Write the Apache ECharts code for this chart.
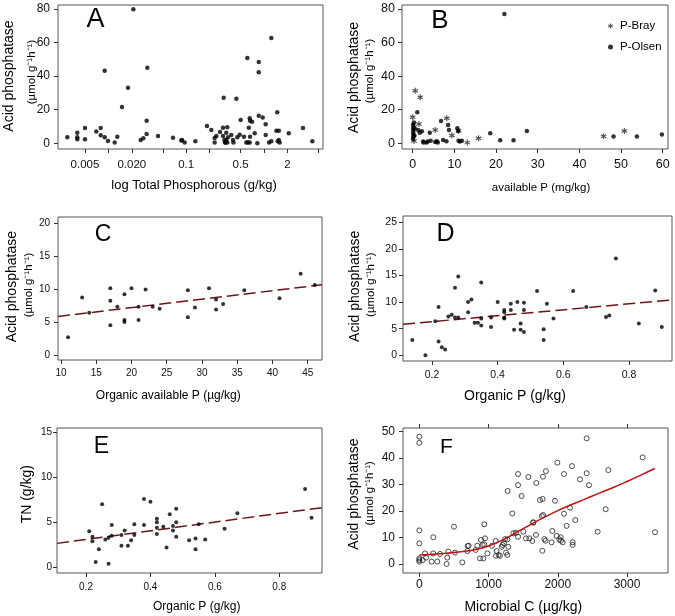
<!DOCTYPE html>
<html><head><meta charset="utf-8">
<script src="https://cdn.jsdelivr.net/npm/echarts@6/dist/echarts.min.js"></script>
<style>html,body{margin:0;padding:0;background:#fff}#c{width:675px;height:616px}</style>
</head><body><div id="c"></div>
<script>
// ---------- Panel A: total P (g/kg, log scale) vs acid phosphatase ----------
const aTP = [0.00296,0.00398,0.00398,0.00398,0.005,0.005,0.00698,0.00796,0.00796,0.00896,0.00896,0.00988,0.01204,0.0130,0.01496,0.01786,0.0209,0.0260,0.0281,0.0310,0.0310,0.0316,0.0434,0.0676,0.0865,0.0883,0.0955,
0.131,0.185,0.210,0.232,0.232,0.244,0.272,0.297,0.303,0.297,0.310,0.316,0.320,0.327,0.337,0.337,0.327,0.344,0.379,0.399,0.405,0.441,0.454,0.487,0.501,0.553,0.592,0.622,0.655,0.610,0.637,0.655,0.661,0.702,0.661,0.759,0.820,0.855,0.855,0.855,0.962,1.05,1.05,1.16,1.24,1.24,1.48,1.44,1.55,1.55,1.59,1.50,2.08,3.17,4.18];
const aAP = [3.6,6.3,3.6,2.4,9.1,2.4,7.1,9.1,4.8,43.2,3.6,1.4,0.4,3.9,21.6,33.1,79.8,2.0,3.0,5.5,13.5,45.0,4.3,3.3,1.6,2.0,0.4,
1.2,10.3,7.9,0.4,3.2,4.3,6.7,9.3,27.2,4.3,2.0,0.4,0.4,2.0,0.4,9.5,6.3,3.6,4.9,2.0,0.4,26.6,3.6,5.1,13.9,3.9,0.4,0.4,0.4,50.8,9.3,14.9,13.5,12.9,3.9,6.0,0,48.4,42.3,16.4,15.3,11.3,4.9,0.4,1.2,62.7,18.5,7.5,7.5,2.0,0.4,1.2,6.0,9.1,1.2];
const aTickVals = [0.005,0.01,0.02,0.05,0.1,0.2,0.5,1,2,5];
const aLabelVals = [0.005,0.02,0.1,0.5,2];
const aLabelText = ['0.005','0.020','0.1','0.5','2'];
const apTicks = [0,20,40,60,80];

// ---------- Panel B: available P (mg/kg) ----------
const bBrayP  = [0.6,1.8,0,1.5,8.2,5.4,9.4,11.0,13.1,15.8,0.3,45.8,50.8];
const bBrayAP = [31.3,27.4,15.5,11.5,14.9,7.9,4.6,7.5,0.4,3.0,1.4,4.2,7.3];
const bOlsenP  = [0.1,0.1,0.2,0.1,0.2,0.1,0.2,0.1,0.3,0.4,0.5,1.1,1.3,1.7,2.2,2.5,2.6,3.3,3.6,4.1,4.3,5.4,5.8,6.0,6.8,7.3,8.1,8.5,8.7,10.7,10.9,11.0,11.3,11.8,18.6,21.0,24.2,27.4,48.2,53.8,59.8,22.0];
const bOlsenAP = [2.5,3.8,5.0,6.2,7.5,8.7,10.0,11.2,12.4,4.5,9.0,18.5,7.9,6.3,7.2,1.0,0.5,0.5,1.0,6.3,1.5,0.8,1.2,0.5,13.3,2.0,1.2,10.9,7.9,9.0,7.3,1.5,1.0,1.5,6.0,1.8,1.8,7.3,4.0,4.0,5.2,77.0];
const bXTicks = [0,10,20,30,40,50,60];

// ---------- Panel C: organic available P (ug/kg) ----------
const cOrgAvP = [11,13,14,17,17,17,18,19,19,19,20,21,21,22,23,24,28,28,29,31,32,32,33,36,41,44,46];
const cAP = [2.7,8.7,6.4,10.1,8.2,4.5,7.3,9.2,5.3,5.0,10.1,7.3,5.3,9.9,7.3,7.0,9.8,5.7,7.2,10.1,8.4,6.9,7.7,9.8,8.6,12.3,10.6];
const cLine = [4.61, 0.128];            // intercept, slope
const cXTicks = [10,15,20,25,30,35,40,45];
const cYTicks = [0,5,10,15,20];

// ---------- Panel D: organic P (g/kg) vs acid phosphatase ----------
const dOrgP = [0.14,0.18,0.21,0.22,0.22,0.23,0.24,0.25,0.26,0.27,0.27,0.28,0.28,0.31,0.31,0.32,0.33,0.34,0.35,0.35,0.35,0.38,0.38,0.40,0.42,0.42,0.42,0.42,0.44,0.44,0.45,0.46,0.47,0.47,0.48,0.48,0.48,0.52,0.54,0.54,0.55,0.57,0.63,0.67,0.73,0.74,0.76,0.83,0.88,0.90];
const dAP = [2.9,0,6.4,9.1,2.6,1.5,1.1,7.3,7.6,12.7,7.1,7.1,14.8,8.1,10.0,10.5,6.1,6.1,13.7,6.9,5.6,7.1,5.3,10.0,8.5,8.1,7.1,6.9,9.7,8.5,4.8,10.0,6.0,4.8,9.9,8.5,4.4,12.1,4.9,2.9,9.7,6.9,12.1,9.1,7.2,7.5,18.2,6.0,12.2,5.3];
const dLine = [5.21, 5.58];
const opTicks = [0.2,0.4,0.6,0.8];
const dYTicks = [0,5,10,15,20,25];

// ---------- Panel E: organic P vs TN ----------
const eOrgP = [0.21,0.22,0.22,0.24,0.23,0.25,0.26,0.27,0.27,0.28,0.28,0.31,0.31,0.32,0.33,0.34,0.35,0.35,0.38,0.38,0.40,0.42,0.42,0.42,0.42,0.44,0.45,0.46,0.47,0.47,0.48,0.48,0.48,0.52,0.54,0.54,0.55,0.57,0.63,0.67,0.88,0.90];
const eTN = [4.0,3.4,2.9,2.0,0.6,7.0,3.1,3.3,0.4,4.7,3.5,3.6,2.4,4.1,2.4,3.0,3.6,4.8,7.6,4.7,7.3,5.4,5.0,4.4,3.7,4.5,2.2,5.9,4.6,4.1,6.5,5.0,3.4,3.0,3.2,2.0,4.8,3.1,4.3,6.0,8.7,5.5];
const eLine = [2.13, 4.83];
const eYTicks = [0,5,10,15];

// ---------- Panel F: microbial C (ug/kg) ----------
const fMicC = [0,0,0,0,0,0,0,50,82,97,178,202,202,260,299,395,405,419,501,515,621,694,699,713,814,838,877,891,915,925,939,949,939,983,1050,1103,1108,1117,1146,1165,1190,1204,1223,1238,1252,1271,1271,1286,1276,1344,1358,1397,1426,1426,1426,1478,1503,1541,1575,1589,1632,1646,1646,1685,1690,1743,1781,1772,1791,1777,1786,1805,1825,1829,1911,1921,1960,1984,2022,1994,2042,2071,2047,2090,2090,2128,2176,2205,2215,2215,2253,2320,2417,2417,2451,2576,2692,2730,3226,3404];
const fAP = [48.1,45.8,12.7,7.8,2.1,1.5,0.9,1.5,4.0,2.4,0.9,4.0,10.1,0.9,3.8,0,2.4,4.7,14.1,4.3,0.6,4.9,6.8,6.9,5.3,6.9,2.1,9.1,7.2,2.1,15.0,9.7,7.4,4.0,6.9,8.7,3.1,4.9,3.4,3.1,6.5,7.2,7.8,9.4,4.3,3.4,9.3,6.5,27.6,19.1,11.6,11.8,34.0,29.8,10.3,25.7,12.2,9.7,32.9,9.7,8.7,15.6,15.8,11.0,30.6,24.2,24.6,18.1,18.5,5.0,33.0,9.4,8.8,35.1,8.2,12.5,23.9,10.6,9.3,38.3,10.1,8.2,8.8,34.0,19.0,14.4,21.3,37.0,8.2,7.2,16.6,32.0,34.3,47.5,29.8,12.2,20.7,35.5,40.3,12.0];
const fFitC  = [0,200,400,600,800,1000,1200,1400,1600,1800,2000,2200,2400,2600,2800,3000,3200,3400];
const fFitAP = [3.4,3.7,4.1,4.6,5.4,6.8,9.0,11.9,14.8,17.6,20.2,22.5,24.6,26.8,28.9,31.2,33.6,36.1];
const fXTicks = [0,1000,2000,3000];
const fYTicks = [0,10,20,30,40,50];

// ---------- build ----------
const FONT = '"Liberation Sans", Arial, Helvetica, sans-serif';
const zip = (xs, ys) => xs.map((x, i) => [x, ys[i]]);
const log10 = v => Math.log10(v);
const plain = v => String(v);
const STAR = 'path://M-0.9,-5L0.9,-5L0.9,5L-0.9,5Z M3.88,3.28L-4.78,-1.72L-3.88,-3.28L4.78,1.72Z M-4.78,1.72L3.88,-3.28L4.78,-1.72L-3.88,3.28Z';

const grids = [
  {left:58, top:5, width:265, height:144},
  {left:402, top:5, width:266, height:144},
  {left:58, top:217, width:264, height:143},
  {left:403, top:216, width:269, height:145},
  {left:57, top:428, width:265, height:145},
  {left:403, top:428, width:265, height:145}
].map(g => Object.assign(g, {show:true, borderColor:'#555', borderWidth:1, backgroundColor:'rgba(0,0,0,0)'}));

const ranges = [
  {x:[-2.648, 0.758], y:[-3.4, 82.4]},
  {x:[-2.57, 61.27], y:[-3.4, 82.4]},
  {x:[9.574, 47.03], y:[-0.756, 20.88]},
  {x:[0.1117, 0.931], y:[-1.07, 26.18]},
  {x:[0.110, 0.9325], y:[-0.63, 15.48]},
  {x:[-235.4, 3592], y:[-3.40, 51.4]}
];

function axis(gi, r, ticks, labels, fontSize, margin, formatter, extra) {
  return Object.assign({
    type:'value', gridIndex:gi, min:r[0], max:r[1],
    axisLine:{show:false, onZero:false},
    axisTick:{show:true, length:4, lineStyle:{color:'#333', width:1}, customValues:ticks},
    axisLabel:{show:true, customValues:labels, fontSize, margin, color:'#111', fontFamily:FONT, formatter: formatter || plain, hideOverlap:false},
    splitLine:{show:false}
  }, extra || {});
}

const aTickLog = aTickVals.map(log10);
const aLabelLog = aLabelVals.map(log10);
const aFmt = v => { const i = aLabelLog.findIndex(l => Math.abs(l - v) < 1e-6); return i >= 0 ? aLabelText[i] : ''; };

const xAxes = [
  axis(0, ranges[0].x, aTickLog, aLabelLog, 11.5, 10, aFmt),
  axis(1, ranges[1].x, bXTicks, bXTicks, 12.5, 9),
  axis(2, ranges[2].x, cXTicks, cXTicks, 10, 8),
  axis(3, ranges[3].x, opTicks, opTicks, 10.5, 9),
  axis(4, ranges[4].x, opTicks, opTicks, 10, 9),
  axis(5, ranges[5].x, fXTicks, fXTicks, 12, 6),
  axis(5, ranges[5].x, fXTicks, fXTicks, 12, 6, null, {position:'top', axisLabel:{show:false, customValues:fXTicks}})
];
const yAxes = [
  axis(0, ranges[0].y, apTicks, apTicks, 12, 8),
  axis(1, ranges[1].y, apTicks, apTicks, 12.5, 7),
  axis(2, ranges[2].y, cYTicks, cYTicks, 10, 8),
  axis(3, ranges[3].y, dYTicks, dYTicks, 10.5, 6),
  axis(4, ranges[4].y, eYTicks, eYTicks, 10, 5),
  axis(5, ranges[5].y, fYTicks, fYTicks, 12, 8)
];

function fitLine(gi, r, coef) {
  return {
    type:'line', xAxisIndex:gi, yAxisIndex:gi, symbol:'none', silent:true,
    data:[[r[0], coef[0] + coef[1]*r[0]], [r[1], coef[0] + coef[1]*r[1]]],
    lineStyle:{color:'#6e1515', width:1.5, type:[12,5]}, z:1
  };
}
const dot = {color:'#000'};
const series = [
  {type:'scatter', xAxisIndex:0, yAxisIndex:0, data:zip(aTP.map(log10), aAP), symbol:'circle', symbolSize:4.5, itemStyle:dot},
  {type:'scatter', name:'P-Bray', xAxisIndex:1, yAxisIndex:1, data:zip(bBrayP, bBrayAP), symbol:STAR, symbolSize:6, itemStyle:{color:'#222'}},
  {type:'scatter', name:'P-Olsen', xAxisIndex:1, yAxisIndex:1, data:zip(bOlsenP, bOlsenAP), symbol:'circle', symbolSize:4.5, itemStyle:dot},
  fitLine(2, ranges[2].x, cLine),
  {type:'scatter', xAxisIndex:2, yAxisIndex:2, data:zip(cOrgAvP, cAP), symbol:'circle', symbolSize:4, itemStyle:dot, z:3},
  fitLine(3, ranges[3].x, dLine),
  {type:'scatter', xAxisIndex:3, yAxisIndex:3, data:zip(dOrgP, dAP), symbol:'circle', symbolSize:4, itemStyle:dot, z:3},
  fitLine(4, ranges[4].x, eLine),
  {type:'scatter', xAxisIndex:4, yAxisIndex:4, data:zip(eOrgP, eTN), symbol:'circle', symbolSize:4, itemStyle:dot, z:3},
  {type:'scatter', xAxisIndex:5, yAxisIndex:5, data:zip(fMicC, fAP), symbol:'circle', symbolSize:5, itemStyle:{color:'rgba(255,255,255,0)', borderColor:'#222', borderWidth:1}},
  {type:'line', xAxisIndex:5, yAxisIndex:5, data:zip(fFitC, fFitAP), smooth:0.4, symbol:'none', lineStyle:{color:'#c41212', width:1.5}, z:3}
];

function t(x, y, text, size, rot) {
  return {type:'text', x, y, rotation: rot ? Math.PI/2 : 0, silent:true,
    style:{text, fontSize:size, fontFamily:FONT, fill:'#000', align:'center', verticalAlign:'middle', textAlign:'center', textVerticalAlign:'middle'}};
}
const SUB = '(\u00b5mol g\u207b\u00b9h\u207b\u00b9)';
const graphics = [
  t(95.5, 20, 'A', 27), t(440, 20.5, 'B', 26), t(103, 235, 'C', 23),
  t(445.5, 234.5, 'D', 25), t(101.5, 446.5, 'E', 23), t(446.5, 447.5, 'F', 21),
  t(194, 185, 'log Total Phosphorous (g/kg)', 13), t(8.7, 76, 'Acid phosphatase', 14, true), t(31.5, 72, SUB, 11.5, true),
  t(541, 188.3, 'available P (mg/kg)', 11.5), t(353.7, 77.5, 'Acid phosphatase', 14, true), t(370.3, 71, SUB, 11.5, true),
  t(168.3, 396, 'Organic available P (\u00b5g/kg)', 12), t(11.7, 286.7, 'Acid phosphatase', 14, true), t(29.2, 285, SUB, 11.5, true),
  t(515, 396.5, 'Organic P (g/kg)', 14), t(355, 286.3, 'Acid phosphatase', 14, true), t(371.2, 284.7, SUB, 11.5, true),
  t(196.7, 606.7, 'Organic P (g/kg)', 12), t(26.7, 494.2, 'TN (g/kg)', 14, true),
  t(523.3, 606.7, 'Microbial C (\u00b5g/kg)', 14), t(353.7, 494.2, 'Acid phosphatase', 14, true), t(370, 493.3, SUB, 11.5, true)
];

const chart = echarts.init(document.getElementById('c'), null, {renderer:'canvas'});
chart.setOption({
  animation:false,
  backgroundColor:'#fff',
  grid:grids, xAxis:xAxes, yAxis:yAxes, series,
  legend:{data:[{name:'P-Bray', icon:STAR}, {name:'P-Olsen', icon:'circle'}], orient:'vertical', left:603, top:14,
    itemWidth:5, itemHeight:5, itemGap:7, selectedMode:false,
    textStyle:{fontSize:11.5, fontFamily:FONT, color:'#000', lineHeight:14, padding:[0,0,0,2]}},
  graphic:graphics
});
</script></body></html>
